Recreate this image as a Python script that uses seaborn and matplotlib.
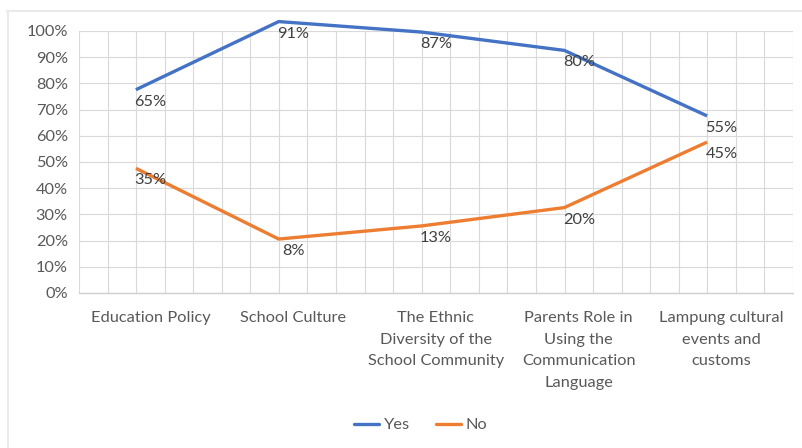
import numpy as np
import pandas as pd
import matplotlib
matplotlib.use("Agg")
import matplotlib.pyplot as plt
import seaborn as sns
from matplotlib.transforms import ScaledTranslation
from matplotlib.lines import Line2D

categories = [
    "Education Policy",
    "School Culture",
    "The Ethnic\nDiversity of the\nSchool Community",
    "Parents Role in\nUsing the\nCommunication\nLanguage",
    "Lampung cultural\nevents and\ncustoms",
]
yes_values = [65, 91, 87, 80, 55]
no_values = [35, 8, 13, 20, 45]
series_names = ["Yes", "No"]
y_ticks = [0, 10, 20, 30, 40, 50, 60, 70, 80, 90, 100]
y_tick_labels = [f"{t}%" for t in y_ticks]

colors = {"Yes": "#4472C4", "No": "#ED7D31"}
grid_c = "#D9D9D9"
text_c = "#595959"
FS = 11.8

df = pd.DataFrame({
    "x": list(range(len(categories))) * 2,
    "value": yes_values + no_values,
    "series": ["Yes"] * len(yes_values) + ["No"] * len(no_values),
})

sns.set_theme(style="white")
plt.rcParams["font.family"] = ["Lato", "DejaVu Sans"]

W, H = 803, 448
fig = plt.figure(figsize=(W / 100, H / 100), dpi=100)

# chart border (top & left visible)
fig.add_artist(Line2D([7 / W, 1], [1 - 11 / H, 1 - 11 / H], transform=fig.transFigure,
                      color="#EAEAEA", lw=1.5))
fig.add_artist(Line2D([8 / W, 8 / W], [1 - 11 / H, 0], transform=fig.transFigure,
                      color="#EAEAEA", lw=1.5))

left, right, top, bottom = 79, 793, 31, 293
ax = fig.add_axes([left / W, 1 - bottom / H, (right - left) / W, (bottom - top) / H])
ax.set_xlim(-0.5, len(categories) - 0.5)
ax.set_ylim(0, 100)

sns.lineplot(data=df, x="x", y="value", hue="series", hue_order=series_names,
             palette=colors, linewidth=2.4, ax=ax, legend=False, sort=False)

# lines in the reference are drawn displaced up-left of the axes frame
shift = ScaledTranslation(-14.5 / 100, 33 / 100, fig.dpi_scale_trans)
for ln in ax.lines:
    ln.set_transform(ax.transData + shift)
    ln.set_clip_on(False)
    ln.set_solid_capstyle("butt")

# data labels
for vals in (yes_values, no_values):
    for i, v in enumerate(vals):
        ax.annotate(f"{v}%", (i, v), xytext=(0, 21 * 0.72), textcoords="offset points",
                    ha="center", va="center", fontsize=FS, color="#404040",
                    annotation_clip=False)

# axes styling
for s in ["top", "right", "left"]:
    ax.spines[s].set_visible(False)
ax.spines["bottom"].set_color("#D0D0D0")
ax.spines["bottom"].set_linewidth(1.0)

ax.set_yticks(y_ticks)
ax.set_yticklabels(y_tick_labels)
ax.yaxis.grid(True, color=grid_c, lw=0.8)
ax.tick_params(axis="y", length=0, pad=8, labelsize=FS, labelcolor=text_c)

ax.set_xticks(range(len(categories)))
ax.set_xticklabels(categories, linespacing=1.7)
ax.tick_params(axis="x", which="major", length=0, pad=13, labelsize=FS, labelcolor=text_c)
minor = np.arange(-0.5, len(categories) - 0.5 + 1e-9, 0.2)
ax.set_xticks(minor, minor=True)
ax.xaxis.grid(True, which="minor", color=grid_c, lw=0.8)
ax.tick_params(axis="x", which="minor", length=4, width=0.8, color="#D0D0D0", direction="out")
ax.set_xlabel("")
ax.set_ylabel("")
ax.set_axisbelow(True)

handles = [Line2D([], [], color=colors[n], lw=2.4) for n in series_names]
fig.legend(handles, series_names, loc="center", bbox_to_anchor=(421 / W, 1 - 425 / H),
           ncol=2, frameon=False, fontsize=FS, handlelength=1.5, handletextpad=0.3,
           columnspacing=1.6, labelcolor=text_c)

fig.savefig("out.png", dpi=100)
